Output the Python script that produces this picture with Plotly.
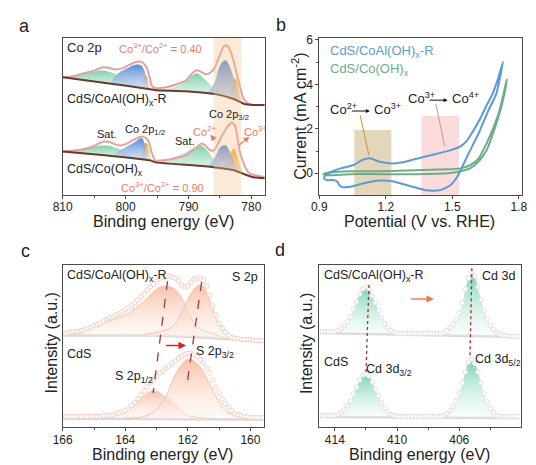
import numpy as np
import plotly.graph_objects as go

FONT = "Liberation Sans, Arial, Helvetica, sans-serif"
TXT = "#222222"
AXC = "#4a4a4a"

# ---------------- Panel a : Co 2p XPS ----------------
a_bg_top_E = [810, 802.9, 796.1, 795.2, 790.5, 785.7, 782.8, 781.1, 779.7, 777.9]
a_bg_top_I = [119, 113, 107, 106, 105, 102, 97, 92, 91, 91]
a_env_top_E = [810, 808.3, 806.8, 804.9, 803.8, 802.9, 801.8, 800.6, 799.6, 798.6, 797.9, 797.3, 796.9, 796.6,
               796.2, 795.8, 795.2, 793.5, 791.9, 790.4, 789.4, 788.8, 788.1, 787.3, 786.7, 785.9, 785.1, 784.5,
               784.2, 783.7, 783.3, 782.8, 782.2, 781.7, 781.3, 780.6, 779.7, 777.9]
a_env_top_I = [119, 120, 123, 126, 129, 129, 127, 128, 131, 134, 135, 134, 131, 128, 120, 110, 108, 109, 112, 116,
               123, 126, 125, 122, 123, 128, 140, 149, 151, 150, 145, 135, 119, 107, 98, 93, 91, 91]
a_raw_top_E = [809.5, 808.5, 807.5, 806.5, 805.5, 804.5, 803.5, 802.5, 801.5, 800.5, 799.5, 798.5, 797.5, 796.8,
               796.3, 795.8, 795, 794, 793, 792, 791, 790, 789.5, 789, 788.5, 788, 787.5, 787, 786.5, 786, 785.5,
               785, 784.5, 784.2, 783.8, 783.3, 782.9, 782.5, 782, 781.5, 781, 780.5, 780, 779.5, 779, 778.5, 778]
a_raw_top_I = [122, 124, 126, 128, 129, 132, 133, 133, 131, 132, 135, 138, 139, 136, 128, 116, 113, 114, 114, 116,
               118, 122, 126, 129, 130, 129, 127, 126, 128, 131, 138, 147, 153, 155, 154, 149, 140, 130, 117, 105,
               99, 96, 95, 94, 95, 94, 95]
a_green1_top_E = [810, 809.1, 807.5, 806.0, 804.9, 803.8, 802.9, 802.0, 801.0, 799.5, 797.9, 796.6]
a_green1_top_I = [119, 119, 122, 124, 125, 126, 125, 123, 120, 115, 111, 107]
a_blue1_top_E = [802.4, 801.7, 800.7, 799.8, 798.9, 798.1, 797.5, 797.0, 796.7, 796.4, 796.1]
a_blue1_top_I = [112, 120, 125, 128, 131, 132, 131, 126, 118, 110, 107]
a_orange1_top_E = [797.6, 797.2, 796.9, 796.6, 796.3, 796.0]
a_orange1_top_I = [108, 116, 121, 120, 112, 107]
a_green2_top_E = [795.6, 794.4, 792.8, 791.3, 790.1, 789.1, 788.7, 788.1, 787.1, 785.9, 784.3, 782.8]
a_green2_top_I = [107, 107, 108, 112, 118, 122, 123, 121, 115, 107, 102, 97]
a_orange2_top_E = [783.6, 783.2, 782.9, 782.6, 782.3, 782.0, 781.6, 781.1]
a_orange2_top_I = [99, 106, 114, 118, 115, 107, 97, 92]
a_blue2_top_E = [787.0, 786.4, 785.7, 785.3, 784.8, 784.3, 784.0, 783.6, 783.1, 782.6, 782.2, 781.6, 781.1]
a_blue2_top_I = [103, 108, 116, 126, 133, 136, 136, 132, 124, 113, 103, 95, 92]

a_bg_bot_E = [810, 802.9, 796.1, 795.2, 787.4, 782.8, 781.1, 779.7, 777.9]
a_bg_bot_I = [44, 40, 35, 33, 29, 25, 21, 18, 17]
a_env_bot_E = [810, 808.3, 806.9, 805.2, 804.3, 803.4, 802.3, 801.0, 799.8, 798.7, 797.6, 797.2, 796.7, 796.4,
               796.1, 795.8, 795.3, 794.4, 793.0, 791.8, 790.4, 789.4, 788.4, 787.9, 787.3, 786.7, 786.0, 785.3,
               784.7, 784.2, 783.7, 783.1, 782.6, 782.2, 781.9, 781.4, 780.9, 780.3, 779.4, 777.9]
a_env_bot_I = [44, 45, 46, 49, 52, 54, 53, 50, 52, 56, 59, 59, 57, 55, 49, 42, 35, 35, 36, 38, 40, 45, 50, 52, 50,
               46, 45, 52, 60, 65, 70, 73, 70, 57, 45, 35, 27, 22, 20, 18]
a_raw_bot_E = [809.5, 808.5, 807.5, 806.5, 805.5, 804.5, 803.5, 802.5, 801.5, 800.5, 799.5, 798.5, 797.5, 796.8,
               796.3, 795.8, 795, 794, 793, 792, 791, 790, 789.5, 789, 788.5, 788, 787.5, 787, 786.5, 786, 785.5,
               785, 784.5, 784, 783.5, 783, 782.6, 782.2, 781.9, 781.5, 781, 780.5, 780, 779.5, 779, 778.5, 778]
a_raw_bot_I = [48, 49, 50, 51, 53, 56, 58, 57, 55, 54, 57, 60, 63, 61, 56, 47, 40, 39, 40, 41, 43, 45, 48, 52, 55,
               56, 54, 51, 49, 50, 54, 60, 66, 72, 76, 77, 74, 62, 49, 39, 31, 26, 24, 23, 22, 22, 21]
a_green1_bot_E = [810, 808.3, 806.8, 805.2, 803.8, 802.9, 801.7, 800.1, 798.6, 797.0, 795.8]
a_green1_bot_I = [44, 45, 47, 49, 50, 50, 48, 44, 40, 37, 34]
a_blue1_bot_E = [801.7, 801.0, 800.1, 799.2, 798.4, 797.8, 797.3, 797.0, 796.7, 796.4, 796.1]
a_blue1_bot_I = [40, 45, 48, 51, 54, 57, 57, 52, 45, 38, 35]
a_orange1_bot_E = [797.8, 797.3, 796.9, 796.6, 796.3, 796.0, 795.7]
a_orange1_bot_I = [37, 46, 53, 52, 46, 38, 34]
a_green2_bot_E = [795.6, 793.6, 791.8, 790.4, 789.3, 788.5, 787.9, 787.3, 786.5, 785.6, 784.0, 782.0]
a_green2_bot_I = [34, 35, 39, 43, 47, 49, 50, 47, 41, 34, 28, 23]
a_orange2_bot_E = [784.0, 783.5, 783.1, 782.8, 782.5, 782.1, 781.6, 781.1, 780.6]
a_orange2_bot_I = [27, 36, 45, 47, 44, 36, 27, 22, 20]
a_blue2_bot_E = [786.7, 786.0, 785.4, 785.0, 784.5, 784.0, 783.6, 783.1, 782.6, 782.2, 781.6, 781.1]
a_blue2_bot_I = [30, 36, 43, 48, 50, 50, 46, 39, 32, 27, 22, 21]
a_band = [786.0, 781.6]
a_ticks = [810, 800, 790, 780]

# ---------------- Panel b : CV curves ----------------
b_blue_V = [0.921, 0.931, 0.960, 0.996, 1.055, 1.092, 1.128, 1.172, 1.230, 1.289, 1.362, 1.435, 1.493, 1.537,
            1.567, 1.596, 1.625, 1.654, 1.681, 1.705, 1.729, 1.698, 1.662, 1.618, 1.581, 1.552, 1.523, 1.494,
            1.450, 1.420, 1.384, 1.304, 1.229, 1.172, 1.115, 1.054, 1.030, 1.010, 0.992, 0.979, 0.966, 0.944,
            0.929, 0.921]
b_blue_I = [-0.20, -0.07, 0.09, 0.22, 0.37, 0.59, 0.67, 0.52, 0.44, 0.52, 0.71, 0.89, 1.04, 1.21, 1.48, 1.93,
            2.44, 3.04, 3.56, 4.20, 5.02, 3.56, 2.81, 1.78, 1.04, 0.44, -0.15, -0.52, -0.75, -0.79, -0.77, -0.56,
            -0.36, -0.33, -0.42, -0.57, -0.62, -0.64, -0.55, -0.36, -0.31, -0.31, -0.30, -0.20]
b_green_V = [0.918, 0.953, 1.040, 1.185, 1.334, 1.479, 1.536, 1.580, 1.619, 1.654, 1.685, 1.711, 1.729, 1.746,
             1.733, 1.716, 1.698, 1.676, 1.654, 1.619, 1.580, 1.536, 1.479, 1.334, 1.185, 1.040, 0.931, 0.918]
b_green_I = [-0.04, 0.04, 0.09, 0.09, 0.13, 0.18, 0.22, 0.36, 0.67, 1.33, 2.04, 2.76, 3.47, 4.22,
             3.47, 2.80, 2.22, 1.56, 1.02, 0.53, 0.22, 0.09, 0.00, -0.04, -0.04, -0.04, -0.09, -0.04]
b_region_tan = [1.058, 1.225, 1.95]
b_region_pink = [1.36, 1.53, 2.58]

# ---------------- Panel c : S 2p XPS ----------------
c_E = [166.0 - 0.1 * k for k in range(65)]
c_top_raw = [95, 95, 96, 96, 97, 97, 98, 99, 100, 101, 103, 104, 105, 107, 109, 111, 112, 114, 115, 117, 119, 121,
             123, 126, 129, 132, 135, 139, 142, 145, 148, 150, 152, 153, 153, 152, 151, 148, 144, 142, 143, 147,
             150, 151, 151, 149, 143, 134, 123, 114, 105, 100, 96, 93, 91, 90, 90, 89, 89, 89, 89, 88, 88, 88, 88]
c_bot_raw = [11, 11, 11, 11, 11, 11, 11, 11, 11, 11, 11, 11, 11, 12, 12, 12, 13, 14, 15, 16, 17, 19, 22, 25, 29,
             33, 37, 41, 45, 49, 52, 55, 57, 60, 62, 65, 67, 70, 72, 74, 75, 75, 74, 72, 69, 65, 60, 55, 48, 41,
             35, 29, 24, 20, 17, 14, 13, 12, 11, 11, 10, 10, 10, 10, 10]
c_bg_top_E = [166, 163.02, 161.47, 159.57]
c_bg_top_I = [93, 93, 91, 87]
c_bg_bot_E = [166, 159.57]
c_bg_bot_I = [9, 8]
c_p12_top_E = [166, 165.47, 164.98, 164.45, 163.92, 163.42, 163.11, 162.89, 162.68, 162.43, 162.21, 161.96, 161.75,
               161.43, 161.03, 160.8]
c_p12_top_I = [93, 98, 103, 108, 115, 127, 137, 142, 143, 140, 132, 115, 103, 97, 93, 90]
c_p32_top_E = [163.42, 162.58, 162.27, 162.02, 161.81, 161.65, 161.50, 161.34, 161.19, 161.03, 160.82, 160.62, 160.3]
c_p32_top_I = [94, 100, 112, 128, 140, 144, 142, 132, 118, 105, 97, 93, 89]
c_p12_bot_E = [165.0, 164.45, 163.93, 163.62, 163.36, 163.15, 162.95, 162.69, 162.38, 162.07, 161.65, 161.2]
c_p12_bot_I = [9, 11, 17, 25, 33, 37, 36, 30, 22, 13, 10, 9]
c_p32_bot_E = [164.0, 163.41, 163.0, 162.69, 162.43, 162.17, 162.02, 161.86, 161.65, 161.40, 161.13, 160.82, 160.51,
               160.20, 159.9]
c_p32_bot_I = [9, 11, 18, 32, 52, 65, 69, 68, 63, 50, 33, 18, 12, 10, 8]
c_guide1 = ([162.65, 163.11], [148, 35])
c_guide2 = ([161.56, 162.02], [147, 45])

# ---------------- Panel d : Cd 3d XPS ----------------
d_E = [415.0 - 0.2 * k for k in range(65)]
d_top_raw = [97, 97, 97, 97, 97, 97, 98, 100, 103, 107, 112, 120, 127, 135, 140, 142, 140, 133, 126, 118, 111, 105,
             101, 98, 96, 95, 95, 95, 95, 95, 95, 95, 95, 95, 95, 95, 95, 95, 95, 95, 96, 98, 101, 104, 109, 116,
             126, 140, 151, 157, 153, 142, 129, 118, 110, 103, 99, 96, 94, 93, 93, 92, 92, 92, 92]
d_bot_raw = [12, 12, 12, 12, 12, 12, 13, 15, 18, 22, 27, 34, 41, 48, 53, 54, 52, 46, 39, 32, 25, 20, 16, 13, 12,
             11, 11, 11, 11, 11, 11, 11, 11, 11, 11, 11, 11, 11, 11, 11, 12, 14, 17, 21, 27, 35, 45, 56, 66, 69,
             65, 56, 45, 34, 26, 19, 15, 12, 11, 11, 11, 11, 11, 11, 11]
d_bg_top_E = [415, 402.06]
d_bg_top_I = [95.5, 91.5]
d_bg_bot_E = [415, 402.06]
d_bg_bot_I = [10.5, 9.5]
d_peak_windows = [(413.9, 410.1), (407.3, 403.3)]
d_guide1 = ([411.81, 412.0], [144, 55])
d_guide2 = ([405.19, 405.31], [161, 72])

fig = go.Figure()


def line(xa, ya, x, y, color, width, shape="linear", dash="solid", smoothing=1.0):
    fig.add_trace(go.Scatter(x=x, y=y, mode="lines", xaxis=xa, yaxis=ya, hoverinfo="skip",
                             line=dict(color=color, width=width, shape=shape, dash=dash, smoothing=smoothing)))


def marks(xa, ya, x, y, fillc, linec, size, symbol="circle"):
    fig.add_trace(go.Scatter(x=x, y=y, mode="markers", xaxis=xa, yaxis=ya, hoverinfo="skip",
                             marker=dict(symbol=symbol, size=size, color=fillc,
                                         line=dict(color=linec, width=1))))


def comp(xa, ya, E, I, bgE, bgI, c_lo, c_hi, lw=0.0, lc="rgba(0,0,0,0)"):
    E = np.asarray(E, float)
    I = np.asarray(I, float)
    bE = np.asarray(bgE, float)
    bI = np.asarray(bgI, float)
    o = np.argsort(bE)
    base = np.interp(E, bE[o], bI[o])
    fig.add_trace(go.Scatter(x=E, y=base, mode="lines", xaxis=xa, yaxis=ya, hoverinfo="skip",
                             line=dict(width=0, color="rgba(0,0,0,0)")))
    fig.add_trace(go.Scatter(x=E, y=I, mode="lines", xaxis=xa, yaxis=ya, hoverinfo="skip",
                             line=dict(width=lw, color=lc, shape="spline", smoothing=0.8),
                             fill="tonexty",
                             fillgradient=dict(type="vertical", colorscale=[[0, c_lo], [1, c_hi]])))


GREEN = ("rgba(214,242,229,0.55)", "rgba(120,206,166,0.95)")
BLUE = ("rgba(205,222,244,0.75)", "rgba(86,138,210,0.97)")
ORANGE = ("rgba(250,226,180,0.7)", "rgba(242,166,30,1)")

# ---- panel a traces ----
for (bgE, bgI, envE, envI, rawE, rawI, g1, b1, o1, g2, o2, b2) in [
    (a_bg_top_E, a_bg_top_I, a_env_top_E, a_env_top_I, a_raw_top_E, a_raw_top_I,
     (a_green1_top_E, a_green1_top_I), (a_blue1_top_E, a_blue1_top_I), (a_orange1_top_E, a_orange1_top_I),
     (a_green2_top_E, a_green2_top_I), (a_orange2_top_E, a_orange2_top_I), (a_blue2_top_E, a_blue2_top_I)),
    (a_bg_bot_E, a_bg_bot_I, a_env_bot_E, a_env_bot_I, a_raw_bot_E, a_raw_bot_I,
     (a_green1_bot_E, a_green1_bot_I), (a_blue1_bot_E, a_blue1_bot_I), (a_orange1_bot_E, a_orange1_bot_I),
     (a_green2_bot_E, a_green2_bot_I), (a_orange2_bot_E, a_orange2_bot_I), (a_blue2_bot_E, a_blue2_bot_I)),
]:
    marks("x", "y", rawE, rawI, "rgba(255,255,255,0)", "#dedede", 6, "circle-open")
    comp("x", "y", g1[0], g1[1], bgE, bgI, *GREEN)
    comp("x", "y", o1[0], o1[1], bgE, bgI, *ORANGE)
    comp("x", "y", b1[0], b1[1], bgE, bgI, *BLUE)
    comp("x", "y", g2[0], g2[1], bgE, bgI, *GREEN)
    comp("x", "y", o2[0], o2[1], bgE, bgI, *ORANGE)
    comp("x", "y", b2[0], b2[1], bgE, bgI, *BLUE)
    line("x", "y", envE, envI, "#e3a29e", 2, "spline", smoothing=0.7)
    line("x", "y", bgE, bgI, "#6b3a2f", 2, "spline", smoothing=0.5)

# ---- panel b traces ----
line("x2", "y2", b_green_V, b_green_I, "#6fac8a", 2, "spline", smoothing=0.6)
line("x2", "y2", b_blue_V, b_blue_I, "#5d9ad6", 2, "spline", smoothing=0.6)

# ---- panel c traces ----
C_SAL = ("rgba(253,238,232,0.3)", "rgba(247,184,156,0.85)")
for (bgE, bgI, p1, p2, raw) in [
    (c_bg_top_E, c_bg_top_I, (c_p12_top_E, c_p12_top_I), (c_p32_top_E, c_p32_top_I), c_top_raw),
    (c_bg_bot_E, c_bg_bot_I, (c_p12_bot_E, c_p12_bot_I), (c_p32_bot_E, c_p32_bot_I), c_bot_raw),
]:
    line("x3", "y3", bgE, bgI, "#d6d6d6", 2.5)
    comp("x3", "y3", p1[0], p1[1], bgE, bgI, *C_SAL, lw=1, lc="#f6c2ad")
    comp("x3", "y3", p2[0], p2[1], bgE, bgI, *C_SAL, lw=1, lc="#f6c2ad")
    marks("x3", "y3", c_E, raw, "white", "#f4d0c2", 4.5)
line("x3", "y3", c_guide1[0], c_guide1[1], "#a8343f", 1.3, dash="dash")
line("x3", "y3", c_guide2[0], c_guide2[1], "#a8343f", 1.3, dash="dash")

# ---- panel d traces ----
D_GRN = ("rgba(235,249,243,0.3)", "rgba(110,208,172,0.95)")
for (bgE, bgI, raw) in [(d_bg_top_E, d_bg_top_I, d_top_raw), (d_bg_bot_E, d_bg_bot_I, d_bot_raw)]:
    line("x4", "y4", bgE, bgI, "#d8d8d8", 2.5)
    for (hi, lo) in d_peak_windows:
        sel = [(e, v) for e, v in zip(d_E, raw) if lo <= e <= hi]
        comp("x4", "y4", [s[0] for s in sel], [s[1] for s in sel], bgE, bgI, *D_GRN)
    marks("x4", "y4", d_E, raw, "white", "#e0e0e0", 4.5)
line("x4", "y4", d_guide1[0], d_guide1[1], "#b02a2a", 1.3, dash="dot")
line("x4", "y4", d_guide2[0], d_guide2[1], "#b02a2a", 1.3, dash="dot")

# ---------------- shapes ----------------
shapes = [
    dict(type="rect", xref="x", yref="y", x0=a_band[0], x1=a_band[1], y0=0, y1=159,
         fillcolor="rgba(246,192,140,0.33)", line=dict(width=0), layer="above"),
    dict(type="rect", xref="x2", yref="y2", x0=b_region_tan[0], x1=b_region_tan[1], y0=-0.98, y1=b_region_tan[2],
         fillcolor="#e4d6ba", line=dict(width=0), layer="below"),
    dict(type="rect", xref="x2", yref="y2", x0=b_region_pink[0], x1=b_region_pink[1], y0=-0.98,
         y1=b_region_pink[2], fillcolor="#fadcdc", line=dict(width=0), layer="below"),
    dict(type="line", xref="x2", yref="y2", x0=1.084, y0=2.62, x1=1.124, y1=0.80,
         line=dict(color="#c8962a", width=1)),
    dict(type="line", xref="x2", yref="y2", x0=1.426, y0=3.11, x1=1.466, y1=1.2,
         line=dict(color="#f08a8a", width=1)),
]

# ---------------- annotations ----------------
ann = []


def T(x, y, text, xr, yr, size=12, color=TXT, xanchor="center", angle=0):
    ann.append(dict(x=x, y=y, xref=xr, yref=yr, text=text, showarrow=False, xanchor=xanchor, yanchor="middle",
                    textangle=angle, font=dict(family=FONT, size=size, color=color)))


def A(x, y, ax, ay, xr, yr, color, width=1.2, head=2, hsize=1.0):
    ann.append(dict(x=x, y=y, ax=ax, ay=ay, xref=xr, yref=yr, axref=xr, ayref=yr, text="", showarrow=True,
                    arrowcolor=color, arrowwidth=width, arrowhead=head, arrowsize=hsize))


SAL = "#ee7b5c"
# panel a
T(809.7, 149, "Co 2p", "x", "y", 13, xanchor="left")
T(794.4, 148.5, "Co<sup>3+</sup>/Co<sup>2+</sup> = 0.40", "x", "y", 11, SAL)
T(809.7, 96, "CdS/CoAl(OH)<sub>x</sub>-R", "x", "y", 12.5, xanchor="left")
T(783.6, 81, "Co 2p<sub>3/2</sub>", "x", "y", 11)
T(803.0, 62, "Sat.", "x", "y", 11)
T(796.9, 66, "Co 2p<sub>1/2</sub>", "x", "y", 11)
T(790.5, 55, "Sat.", "x", "y", 11)
T(787.4, 65, "Co<sup>2+</sup>", "x", "y", 11, SAL)
T(779.4, 65, "Co<sup>3+</sup>", "x", "y", 11, SAL)
T(809.7, 25, "CdS/Co(OH)<sub>x</sub>", "x", "y", 12.5, xanchor="left")
T(794.1, 8, "Co<sup>3+</sup>/Co<sup>2+</sup> = 0.90", "x", "y", 11, SAL)
A(786.5, 61, 785.7, 54, "x", "y", SAL)
A(780.3, 59, 782.2, 49, "x", "y", SAL)
# panel b
T(0.939, 5.47, "CdS/CoAl(OH)<sub>x</sub>-R", "x2", "y2", 13, "#5d9ad6", xanchor="left")
T(0.939, 4.67, "CdS/Co(OH)<sub>x</sub>", "x2", "y2", 13, "#6fac8a", xanchor="left")
T(0.939, 2.89, "Co<sup>2+</sup>", "x2", "y2", 13, xanchor="left")
T(1.139, 2.89, "Co<sup>3+</sup>", "x2", "y2", 13, xanchor="left")
T(1.290, 3.38, "Co<sup>3+</sup>", "x2", "y2", 13, xanchor="left")
T(1.490, 3.38, "Co<sup>4+</sup>", "x2", "y2", 13, xanchor="left")
A(1.128, 2.80, 1.040, 2.80, "x2", "y2", "#111111", 1, 2, 0.8)
A(1.479, 3.29, 1.391, 3.29, "x2", "y2", "#111111", 1, 2, 0.8)
# panel c
T(165.94, 153, "CdS/CoAl(OH)<sub>x</sub>-R", "x3", "y3", 12.5, xanchor="left")
T(159.7, 152, "S 2p", "x3", "y3", 12.5, xanchor="right")
T(165.94, 74, "CdS", "x3", "y3", 12.5, xanchor="left")
T(161.12, 76, "S 2p<sub>3/2</sub>", "x3", "y3", 12.5)
T(163.73, 51, "S 2p<sub>1/2</sub>", "x3", "y3", 12.5)
A(162.06, 83, 162.74, 83, "x3", "y3", "#e0201e", 1.5, 2, 1.0)
# panel d
T(414.81, 153, "CdS/CoAl(OH)<sub>x</sub>-R", "x4", "y4", 12.5, xanchor="left")
T(402.31, 153, "Cd 3d", "x4", "y4", 12.5, xanchor="right")
T(414.81, 66, "CdS", "x4", "y4", 12.5, xanchor="left")
T(410.5, 58, "Cd 3d<sub>3/2</sub>", "x4", "y4", 12.5)
T(403.5, 68, "Cd 3d<sub>5/2</sub>", "x4", "y4", 12.5)
A(407.63, 130, 409.19, 130, "x4", "y4", "#f07a55", 1.5, 2, 1.0)

# axis titles and panel letters (paper coordinates; page body adds an 8 px offset)
T(0.27985, 0.5462, "Binding energy (eV)", "paper", "paper", 16)
T(0.77052, 0.5462, "Potential (V vs. RHE)", "paper", "paper", 16)
T(0.27799, 0.0410, "Binding energy (eV)", "paper", "paper", 16)
T(0.77052, 0.0410, "Binding energy (eV)", "paper", "paper", 16)
T(0.53918, 0.77634, "Current (mA cm<sup>-2</sup>)", "paper", "paper", 16, angle=-90)
T(0.06343, 0.28172, "Intensity (a.u.)", "paper", "paper", 16, angle=-90)
T(0.55410, 0.28172, "Intensity (a.u.)", "paper", "paper", 16, angle=-90)
T(0.01306, 0.97204, "a", "paper", "paper", 18)
T(0.50560, 0.97419, "b", "paper", "paper", 18)
T(0.01493, 0.48172, "c", "paper", "paper", 18)
T(0.50373, 0.48387, "d", "paper", "paper", 18)


def xax(domain, rng, tickvals, ticktext, minor_dtick=None, anchor="y"):
    d = dict(domain=domain, range=rng, anchor=anchor, showgrid=False, zeroline=False, showline=True, mirror=True,
             linecolor=AXC, linewidth=1, ticks="outside", ticklen=3, tickwidth=1, tickcolor=AXC,
             tickvals=tickvals, ticktext=ticktext, tickfont=dict(family=FONT, size=12, color=TXT),
             ticklabelstandoff=-2)
    if minor_dtick:
        d["minor"] = dict(ticks="outside", ticklen=2, dtick=minor_dtick, tickcolor=AXC, showgrid=False)
    return d


def yax(domain, rng, anchor, show=False):
    d = dict(domain=domain, range=rng, anchor=anchor, showgrid=False, zeroline=False, showline=True, mirror=True,
             linecolor=AXC, linewidth=1)
    if show:
        d.update(ticks="outside", ticklen=3, tickwidth=1, tickcolor=AXC, tickvals=[0, 2, 4, 6],
                 tickfont=dict(family=FONT, size=12, color=TXT),
                 minor=dict(ticks="outside", ticklen=2, dtick=1, tickcolor=AXC, showgrid=False))
    else:
        d.update(ticks="", showticklabels=False)
    return d


fig.update_layout(
    width=536, height=465, margin=dict(l=0, r=0, t=0, b=0), showlegend=False,
    paper_bgcolor="white", plot_bgcolor="white",
    xaxis=xax([0.08582, 0.47388], [810, 777.85], a_ticks, [str(v) for v in a_ticks], 5, "y"),
    yaxis=yax([0.60430, 0.94624], [0, 159], "x"),
    xaxis2=xax([0.57836, 0.96828], [0.9, 1.8167], [0.9, 1.2, 1.5, 1.8], ["0.9", "1.2", "1.5", "1.8"], None, "y2"),
    yaxis2=yax([0.60430, 0.94624], [-0.98, 6.1], "x2", True),
    xaxis3=xax([0.08582, 0.47201], [166, 159.57], [166, 164, 162, 160], ["166", "164", "162", "160"], 1, "y3"),
    yaxis3=yax([0.09892, 0.45161], [0, 164], "x3"),
    xaxis4=xax([0.57836, 0.96455], [415, 402.06], [414, 410, 406, 402], ["414", "410", "406", "402"], 2, "y4"),
    yaxis4=yax([0.09892, 0.45161], [0, 164], "x4"),
    shapes=shapes, annotations=ann,
)

fig.write_html("out.html")
